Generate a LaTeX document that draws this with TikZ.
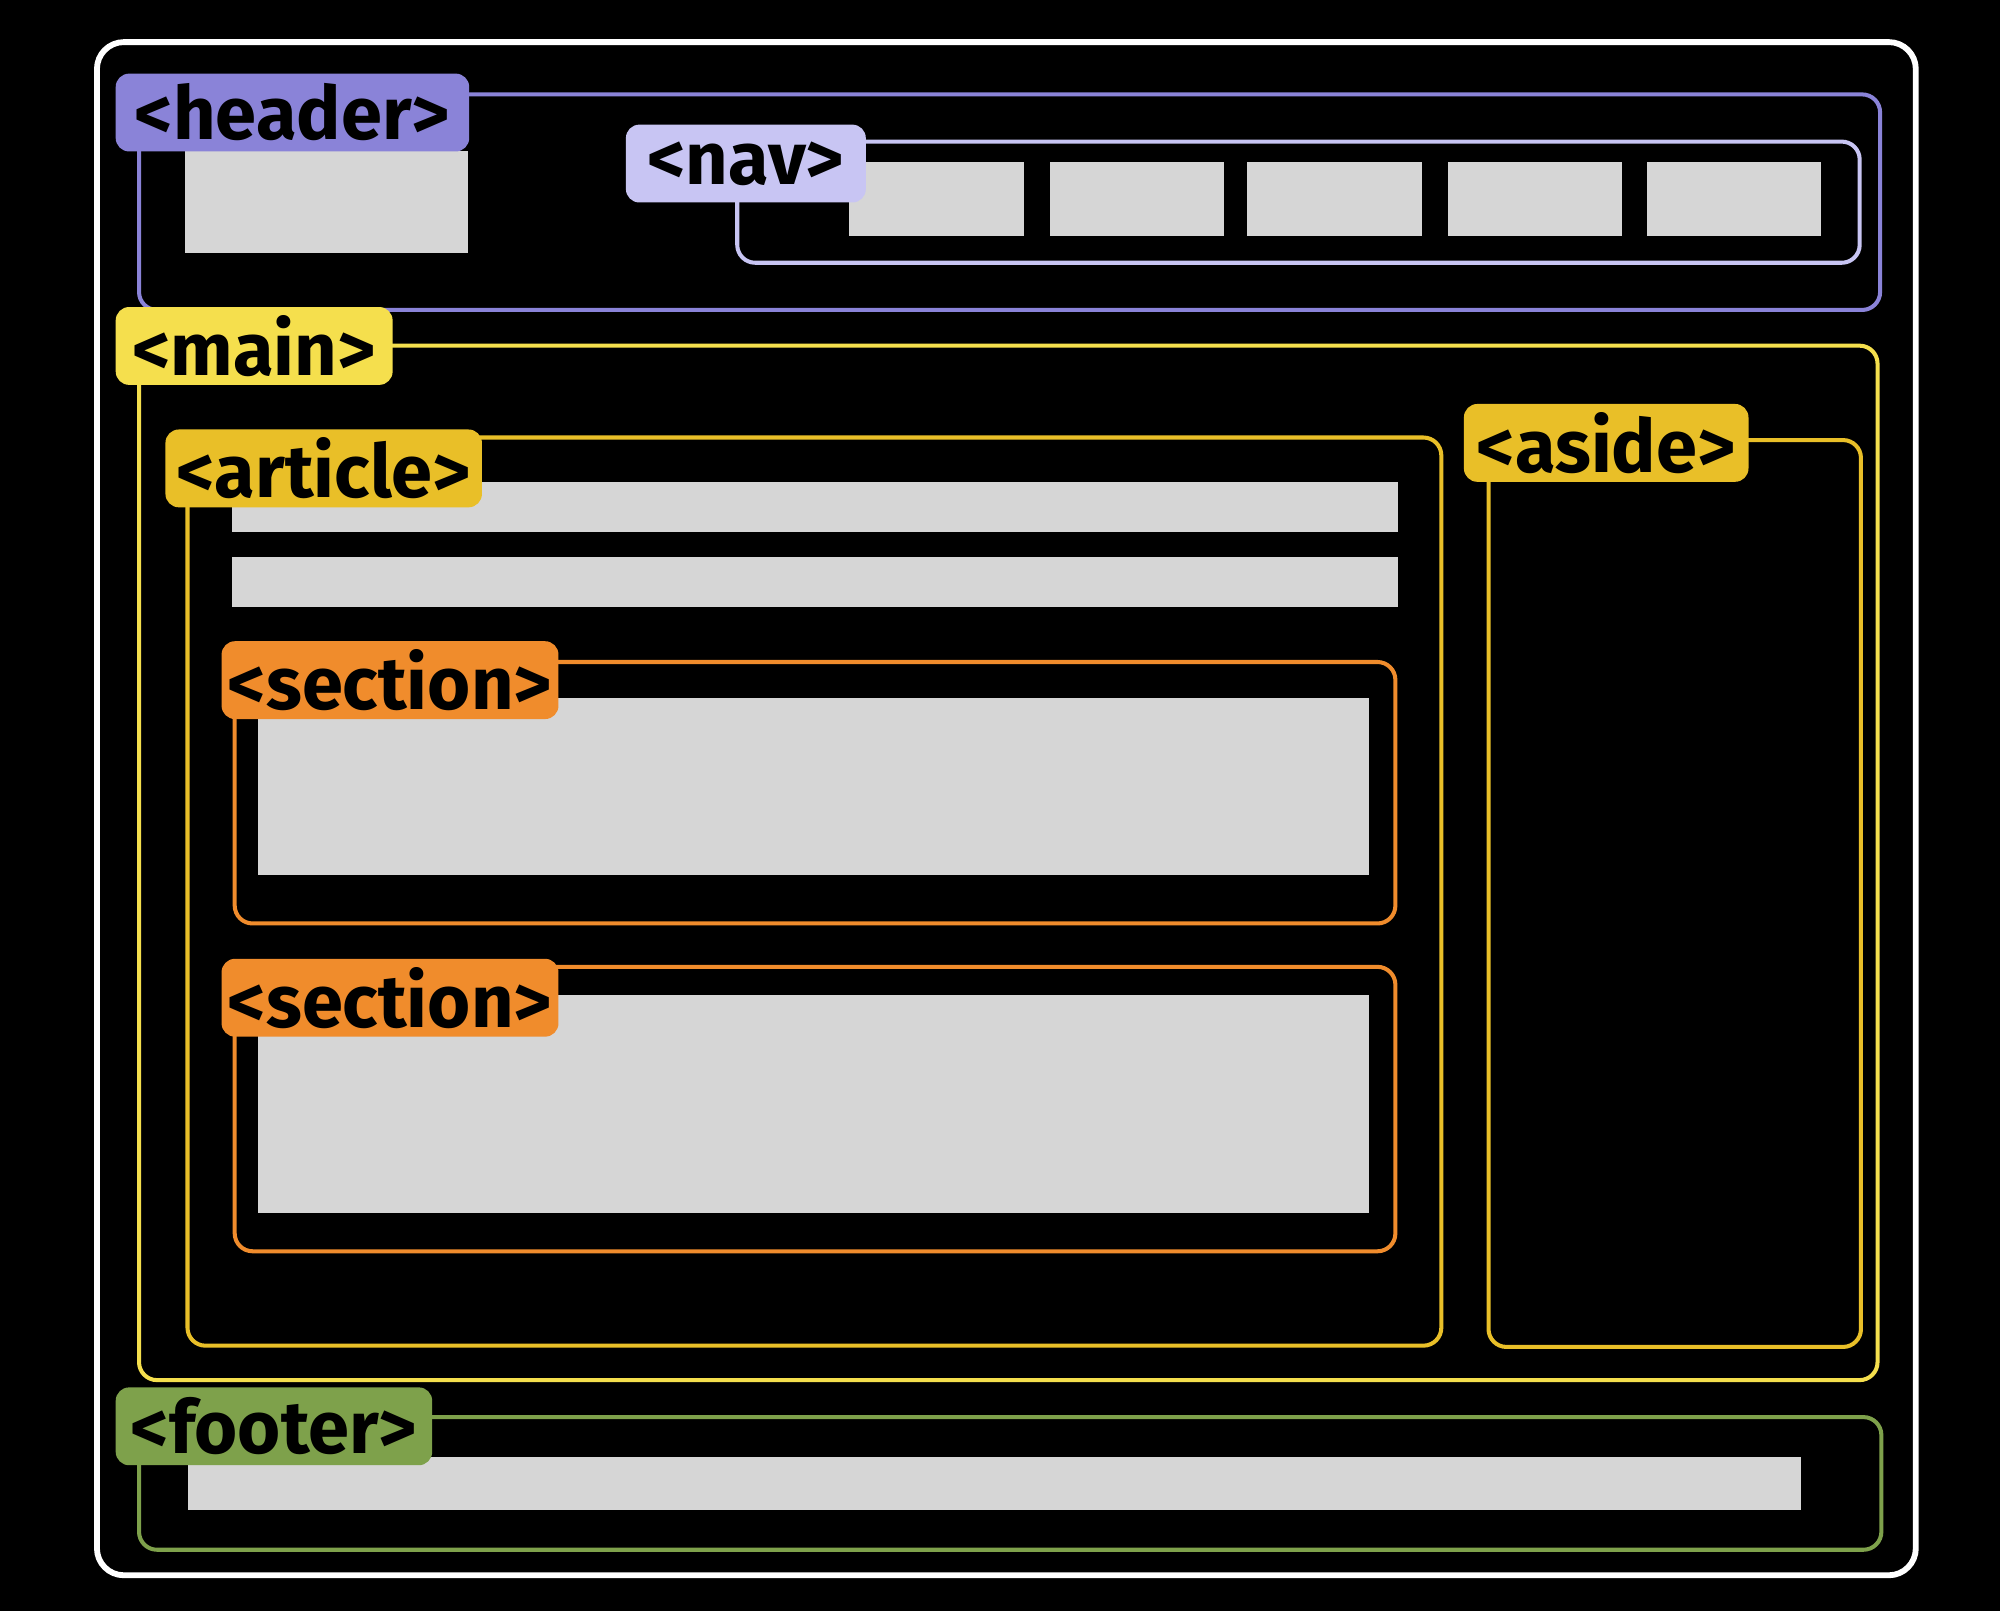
\documentclass[tikz,border=0pt]{standalone}
\usepackage{fontspec}
\newfontfamily\tagfont{Fira Sans}
\usetikzlibrary{positioning}
\definecolor{hdr}{HTML}{8A83D8}
\definecolor{navc}{HTML}{C8C5F3}
\definecolor{mainc}{HTML}{F5DF4D}
\definecolor{gold}{HTML}{E9BF28}
\definecolor{sect}{HTML}{F08C2C}
\definecolor{foot}{HTML}{7EA14B}
\definecolor{block}{HTML}{D6D6D6}
\begin{document}
\begin{tikzpicture}[x=0.01cm,y=-0.01cm,
 tag/.style={anchor=north west,rounded corners=3pt,inner sep=0pt,minimum height=0.61cm,
 font=\tagfont\bfseries\fontsize{16.5}{16.5}\selectfont,text=black},
 frame/.style={line width=0.9pt,rounded corners=4pt}]
\useasboundingbox (0,0) rectangle (1568,1263);
\fill[black] (0,0) rectangle (1568,1263);
\draw[white,line width=1.3pt,rounded corners=6pt] (76,33) rectangle (1502,1235);
% header
\draw[frame,hdr] (109,74) rectangle (1474,243);
\fill[block] (145,118) rectangle (367,198);
\node[tag,fill=hdr,minimum width=2.77cm] (header) at (90,57) {<header>};
\draw[frame,navc] (578,111) rectangle (1458,206);
\foreach \x in {666,823,978,1135,1291}
 \fill[block] (\x,127) rectangle +(137,58);
\node[tag,fill=navc,minimum width=1.88cm] (nav) at (490,97) {<nav>};
% main
\draw[frame,mainc] (109,271) rectangle (1472,1082);
\node[tag,fill=mainc,minimum width=2.17cm] (main) at (90,240) {<main>};
\draw[frame,gold] (147,343) rectangle (1130,1055);
\fill[block] (182,378) rectangle (1096,417);
\fill[block] (182,437) rectangle (1096,476);
\node[tag,fill=gold,minimum width=2.48cm] (article) at (129,336) {<article>};
\draw[frame,sect] (184,519) rectangle (1094,724);
\fill[block] (202,547) rectangle (1073,686);
\node[tag,fill=sect,minimum width=2.64cm] (sectA) at (173,502) {<section>};
\draw[frame,sect] (184,758) rectangle (1094,981);
\fill[block] (202,780) rectangle (1073,951);
\node[tag,fill=sect,minimum width=2.64cm] (sectB) at (173,751) {<section>};
\draw[frame,gold] (1167,345) rectangle (1459,1056);
\node[tag,fill=gold,minimum width=2.23cm] (aside) at (1147,316) {<aside>};
% footer
\draw[frame,foot] (109,1111) rectangle (1475,1215);
\fill[block] (147,1142) rectangle (1412,1184);
\node[tag,fill=foot,minimum width=2.48cm] (footer) at (90,1087) {<footer>};
\end{tikzpicture}
\end{document}
